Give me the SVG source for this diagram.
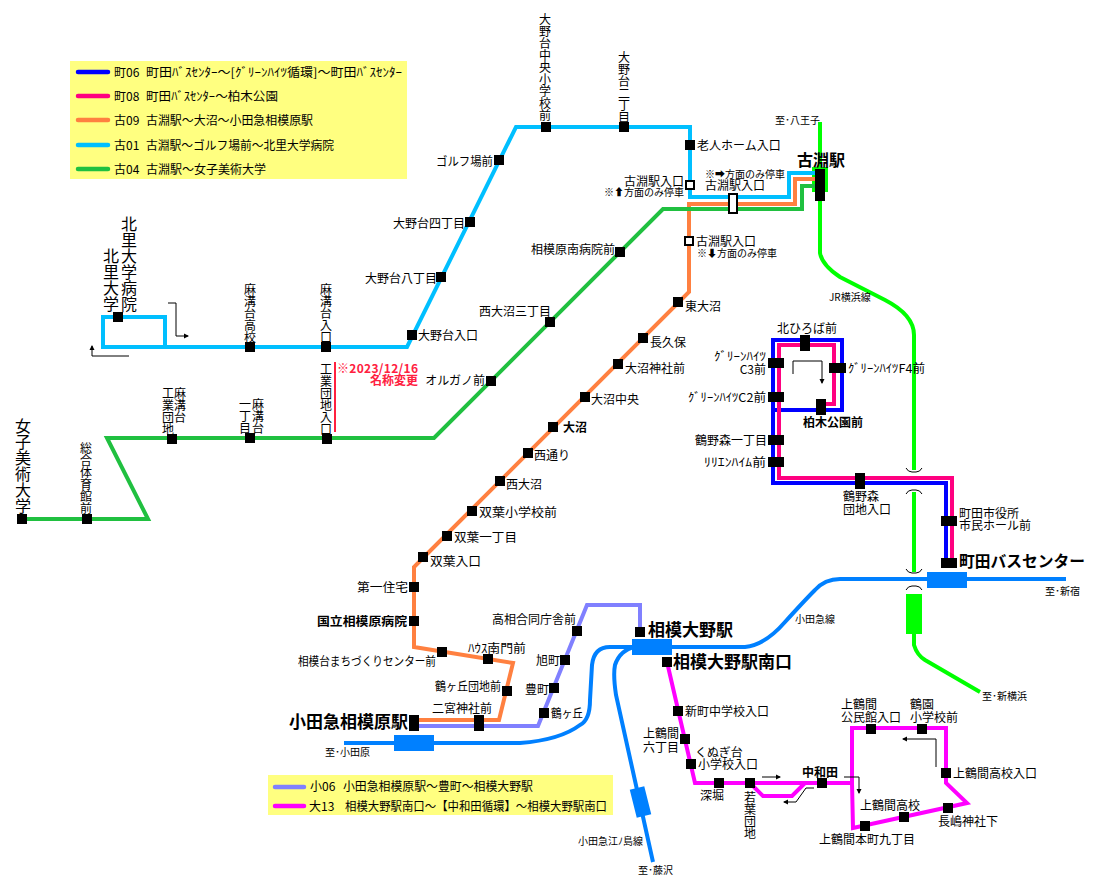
<svg xmlns="http://www.w3.org/2000/svg" width="1099" height="885" viewBox="0 0 1099 885">
<style>
text{font-family:"Noto Sans CJK JP","Noto Sans CJK SC",sans-serif;font-size:12px;fill:#000;transform:translateY(1px)}
.sm{font-size:10px}.b{font-weight:700}.h{font-size:16px;font-weight:700}.m{text-anchor:middle}.e{text-anchor:end}
.v{writing-mode:vertical-rl;text-orientation:upright}.v16{font-size:16px}
.s{fill:#000}.w{fill:#fff;stroke:#000;stroke-width:2}
.l{fill:none;stroke-width:4;stroke-linejoin:miter;stroke-linecap:butt}
.a{fill:none;stroke:#000;stroke-width:1;marker-end:url(#ah)}.g{fill:none;stroke:#000;stroke-width:1}
.k{stroke-width:4.5;stroke-linecap:round}
.r1{stroke:#0000ff}.r2{stroke:#ff0080}.r3{stroke:#ff8040}.r4{stroke:#00bfff}.r5{stroke:#20c040}.r6{stroke:#8080ff}.r7{stroke:#ff00ff}.jr{stroke:#00ff00}.oq{stroke:#0080ff}
.leg{fill:#ffff80}
</style>
<defs><marker id="ah" markerWidth="6" markerHeight="6" refX="4" refY="3" orient="auto" markerUnits="userSpaceOnUse"><path d="M0,0.5L5,3L0,5.500z" fill="#000"/></marker></defs>

<g id="legend-top">
<rect class="leg" x="70" y="61" width="337" height="118"/>
<path class="l k r1" d="M78,72H108"/><path class="l k r2" d="M78,96H108"/><path class="l k r3" d="M78,120H108"/><path class="l k r4" d="M78,145H108"/><path class="l k r5" d="M78,169H108"/>
<text x="114" y="76">町06</text><text x="146" y="76" textLength="256" lengthAdjust="spacingAndGlyphs">町田ﾊﾞｽｾﾝﾀｰ～[ｸﾞﾘｰﾝﾊｲﾂ循環]～町田ﾊﾞｽｾﾝﾀｰ</text>
<text x="114" y="100">町08</text><text x="146" y="100" textLength="132" lengthAdjust="spacingAndGlyphs">町田ﾊﾞｽｾﾝﾀｰ～柏木公園</text>
<text x="114" y="124">古09</text><text x="146" y="124" textLength="167" lengthAdjust="spacingAndGlyphs">古淵駅～大沼～小田急相模原駅</text>
<text x="114" y="149">古01</text><text x="146" y="149" textLength="188" lengthAdjust="spacingAndGlyphs">古淵駅～ゴルフ場前～北里大学病院</text>
<text x="114" y="173">古04</text><text x="146" y="173">古淵駅～女子美術大学</text>
</g>
<g id="legend-bottom">
<rect class="leg" x="268" y="775" width="345" height="40"/>
<path class="l k r6" d="M275,787H304"/><path class="l k r7" d="M275,806H304"/>
<text x="310" y="790">小06</text><text x="343" y="790" textLength="190" lengthAdjust="spacingAndGlyphs">小田急相模原駅～豊町～相模大野駅</text>
<text x="309" y="810">大13</text><text x="345" y="810" textLength="262" lengthAdjust="spacingAndGlyphs">相模大野駅南口～【中和田循環】～相模大野駅南口</text>
</g>

<g id="railways">
<rect x="812" y="167" width="16" height="25" fill="#00ff00"/>
<path class="l jr" d="M820,122V253Q822,265 840,277L885,300Q914,315 914,335V470M914,492V572M914,634V645Q917,655 925,660L980,692"/>
<rect x="906" y="594" width="16" height="40" fill="#00ff00"/>
<path class="g" d="M906,468Q908,472 912,472H916Q920,472 922,468M906,494Q908,490 912,490H916Q920,490 922,494M906,569Q908,573 912,573H916Q920,573 922,569M906,590Q908,586 912,586H916Q920,586 922,590"/>
<path class="l oq" d="M344,743H520Q560,740 580,725Q590,720 590,700L592,665Q594,647 610,647H745Q765,645 785,622Q805,600 815,590Q825,579 840,579H1066"/>
<path class="l oq" d="M635,647Q620,650 615,665Q613,675 616,695L653,862"/>
<rect x="394" y="735" width="40" height="16" fill="#0080ff"/><rect x="632" y="639" width="40" height="16" fill="#0080ff"/><rect x="927" y="572" width="40" height="16" fill="#0080ff"/>
<path d="M637,788L644,816" stroke="#0080ff" stroke-width="15" fill="none"/>
</g>

<g id="connectors">
<path class="l r1" d="M946,560V483H773V340H842V410H773"/>
<path class="l r2" d="M952,560V478H779V345H834V404H821"/>
<path class="l r4" d="M815,173H789V197H690V127H516L407,347H103V317H165V347"/>
<path class="l r3" d="M815,179H795V204H689V292L423,558L414,567V647L513,663L499,720H414"/>
<path class="l r5" d="M815,186H802V209H663L434,438H107L148,519H22"/>
<path class="l r6" d="M414,726H538L587,605H640V632"/>
<path class="l r7" d="M667,662L695,783H852M750,783L763,796H792L805,783M852,783V728H946V783L967,803L853,828L852,783"/>
<path class="a" d="M168,303H176V336H188"/><path class="a" d="M129,356H92V346"/><path class="a" d="M793,374V361H822V383"/><path class="a" d="M762,777H780"/><path class="a" d="M814,788H806L796,802H784"/><path class="a" d="M844,777H859V793"/><path class="a" d="M936,767V739H903"/>
<path d="M335,362V432" stroke="#ff2040" stroke-width="2" fill="none"/>
</g>

<g id="note"><text x="337" y="372" class="b" style="fill:#ff2040" textLength="81">※2023/12/16</text><text x="418" y="384" class="b e" style="fill:#ff2040">名称変更</text></g>

<g id="n-oono-chuo"><rect class="s" x="541" y="122" width="10" height="10"/><text class="v" x="545" y="12">大野台中央小学校前</text></g>
<g id="n-oono2"><rect class="s" x="619" y="122" width="10" height="10"/><text class="v" x="624" y="50">大野台二丁目</text></g>
<g id="n-rojin"><rect class="s" x="685" y="140" width="10" height="10"/><text x="697" y="149">老人ホーム入口</text></g>
<g id="n-golf"><rect class="s" x="494" y="155" width="10" height="10"/><text class="e" x="493" y="165" textLength="57" lengthAdjust="spacingAndGlyphs">ゴルフ場前</text></g>
<g id="n-oono4"><rect class="s" x="465" y="217" width="10" height="10"/><text class="e" x="465" y="227">大野台四丁目</text></g>
<g id="n-oono8"><rect class="s" x="436" y="272" width="10" height="10"/><text class="e" x="437" y="282">大野台八丁目</text></g>
<g id="n-oono-iri"><rect class="s" x="407" y="330" width="10" height="10"/><text x="418" y="339">大野台入口</text></g>
<g id="n-azamizo-iri"><rect class="s" x="321" y="342" width="10" height="10"/><text class="v" x="326" y="282">麻溝台入口</text></g>
<g id="n-azamizo-ko"><rect class="s" x="245" y="342" width="10" height="10"/><text class="v" x="250" y="282">麻溝台高校</text></g>
<g id="n-kitasato"><rect class="s" x="113" y="312" width="10" height="10"/><text class="v v16" x="111" y="247">北里大学</text><text class="v v16" x="129" y="215">北里大学病院</text></g>

<g id="n-koen-st"><rect class="s" x="815" y="169" width="10" height="32"/><text class="h" x="797" y="165">古淵駅</text></g>
<g id="n-koen-a"><rect class="w" x="686" y="181" width="8" height="8"/><text class="e" x="684" y="185">古淵駅入口</text><text class="sm e" x="684" y="195">※⬆方面のみ停車</text></g>
<g id="n-koen-b"><rect class="w" x="729" y="194" width="8" height="19"/><text x="705" y="189">古淵駅入口</text><text class="sm" x="705" y="177">※➡方面のみ停車</text></g>
<g id="n-koen-c"><rect class="w" x="685" y="237" width="8" height="8"/><text x="696" y="245">古淵駅入口</text><text class="sm" x="697" y="256">※⬇方面のみ停車</text></g>

<g id="n-sagamihara-nan"><rect class="s" x="615" y="247" width="10" height="10"/><text class="e" x="615" y="253">相模原南病院前</text></g>
<g id="n-onuma3"><rect class="s" x="545" y="317" width="10" height="10"/><text class="e" x="551" y="315">西大沼三丁目</text></g>
<g id="n-orugano"><rect class="s" x="486" y="376" width="10" height="10"/><text class="e" x="485" y="384">オルガノ前</text></g>
<g id="n-kogyo-iri"><rect class="s" x="322" y="434" width="10" height="10"/><text class="v" x="326" y="362">工業団地入口</text></g>
<g id="n-azamizo1"><rect class="s" x="245" y="433" width="10" height="10"/><text class="v" x="258" y="397">麻溝台</text><text class="v" x="245" y="397">一丁目</text></g>
<g id="n-azamizo-kogyo"><rect class="s" x="167" y="434" width="10" height="10"/><text class="v" x="180" y="386">麻溝台</text><text class="v" x="168" y="386">工業団地</text></g>
<g id="n-sogo"><rect class="s" x="82" y="514" width="10" height="10"/><text class="v" x="86" y="441">総合体育館前</text></g>
<g id="n-joshibi"><rect class="s" x="17" y="514" width="10" height="10"/><text class="v v16" x="23" y="417">女子美術大学</text></g>

<g id="n-higashionuma"><rect class="s" x="673" y="297" width="10" height="10"/><text x="685" y="310">東大沼</text></g>
<g id="n-nagakubo"><rect class="s" x="638" y="333" width="10" height="10"/><text x="650" y="346">長久保</text></g>
<g id="n-onuma-jinja"><rect class="s" x="613" y="359" width="10" height="10"/><text x="625" y="372">大沼神社前</text></g>
<g id="n-onuma-chuo"><rect class="s" x="580" y="392" width="10" height="10"/><text x="591" y="403">大沼中央</text></g>
<g id="n-onuma"><rect class="s" x="548" y="422" width="10" height="10"/><text class="b" x="563" y="431">大沼</text></g>
<g id="n-nishidori"><rect class="s" x="523" y="448" width="10" height="10"/><text x="534" y="459">西通り</text></g>
<g id="n-nishionuma"><rect class="s" x="495" y="476" width="10" height="10"/><text x="506" y="488">西大沼</text></g>
<g id="n-futaba-sho"><rect class="s" x="467" y="506" width="10" height="10"/><text x="479" y="516" textLength="78" lengthAdjust="spacingAndGlyphs">双葉小学校前</text></g>
<g id="n-futaba1"><rect class="s" x="442" y="531" width="10" height="10"/><text x="454" y="541" textLength="63" lengthAdjust="spacingAndGlyphs">双葉一丁目</text></g>
<g id="n-futaba-iri"><rect class="s" x="418" y="552" width="10" height="10"/><text x="430" y="565" textLength="51" lengthAdjust="spacingAndGlyphs">双葉入口</text></g>
<g id="n-daiichi"><rect class="s" x="409" y="582" width="10" height="10"/><text class="e" x="408" y="591" textLength="51" lengthAdjust="spacingAndGlyphs">第一住宅</text></g>
<g id="n-kokuritsu"><rect class="s" x="409" y="616" width="10" height="10"/><text class="e b" x="407" y="625" textLength="90" lengthAdjust="spacingAndGlyphs">国立相模原病院</text></g>
<g id="n-machizukuri"><rect class="s" x="437" y="647" width="10" height="10"/><text class="e" x="436" y="665" textLength="138" lengthAdjust="spacingAndGlyphs">相模台まちづくりセンター前</text></g>
<g id="n-house"><rect class="s" x="483" y="654" width="10" height="10"/><text class="m" x="497" y="652" textLength="58" lengthAdjust="spacingAndGlyphs">ﾊｳｽ南門前</text></g>
<g id="n-tsurugaoka-d"><rect class="s" x="502" y="686" width="10" height="10"/><text class="e" x="501" y="690" textLength="66" lengthAdjust="spacingAndGlyphs">鶴ヶ丘団地前</text></g>
<g id="n-ninomiya"><rect class="s" x="474" y="715" width="10" height="16"/><text class="m" x="462" y="712">二宮神社前</text></g>
<g id="n-odasaga"><rect class="s" x="409" y="715" width="10" height="16"/><text class="h e" style="font-size:17px" x="408" y="727">小田急相模原駅</text></g>
<g id="n-tsurugaoka"><rect class="s" x="539" y="708" width="10" height="10"/><text x="551" y="717" textLength="32" lengthAdjust="spacingAndGlyphs">鶴ヶ丘</text></g>
<g id="n-yutakacho"><rect class="s" x="549" y="683" width="10" height="10"/><text class="e" x="549" y="693">豊町</text></g>
<g id="n-asahicho"><rect class="s" x="560" y="655" width="10" height="10"/><text class="e" x="560" y="664">旭町</text></g>
<g id="n-kosoai"><rect class="s" x="572" y="626" width="10" height="10"/><text class="e" x="576" y="623">高相合同庁舎前</text></g>
<g id="n-sagamiono"><rect class="s" x="635" y="627" width="10" height="10"/><text class="h" style="font-size:17px" x="648" y="635">相模大野駅</text></g>
<g id="n-sagamiono-s"><rect class="s" x="662" y="657" width="10" height="10"/><text class="h" style="font-size:17px" x="673" y="667">相模大野駅南口</text></g>

<g id="n-shinmachi"><rect class="s" x="673" y="706" width="10" height="10"/><text x="685" y="715">新町中学校入口</text></g>
<g id="n-kamitsuru6"><rect class="s" x="680" y="734" width="10" height="10"/><text class="m" x="661" y="737">上鶴間</text><text class="m" x="661" y="751">六丁目</text></g>
<g id="n-kunugi"><rect class="s" x="686" y="759" width="10" height="10"/><text class="m" x="719" y="756">くぬぎ台</text><text x="698" y="768">小学校入口</text></g>
<g id="n-fukabori"><rect class="s" x="714" y="778" width="10" height="10"/><text class="m" x="712" y="799">深堀</text></g>
<g id="n-wakaba"><rect class="s" x="745" y="778" width="10" height="10"/><text class="v" x="750" y="790">若葉団地</text></g>
<g id="n-nakawada"><rect class="s" x="817" y="778" width="10" height="10"/><text class="m b" x="820" y="776">中和田</text></g>
<g id="n-kouminkan"><rect class="s" x="866" y="724" width="10" height="10"/><text x="841" y="708">上鶴間</text><text x="841" y="721">公民館入口</text></g>
<g id="n-tsuruzono"><rect class="s" x="917" y="724" width="10" height="10"/><text x="910" y="708">鶴園</text><text x="910" y="721">小学校前</text></g>
<g id="n-kt-iri"><rect class="s" x="941" y="768" width="10" height="10"/><text x="953" y="777">上鶴間高校入口</text></g>
<g id="n-nagashima"><rect class="s" x="943" y="803" width="10" height="10"/><text x="938" y="825">長嶋神社下</text></g>
<g id="n-kt"><rect class="s" x="899" y="812" width="10" height="10"/><text x="860" y="809">上鶴間高校</text></g>
<g id="n-hommachi9"><rect class="s" x="860" y="821" width="10" height="10"/><text x="819" y="843">上鶴間本町九丁目</text></g>

<g id="n-kitahiroba"><rect class="s" x="800" y="335" width="10" height="16"/><text class="m" x="807" y="332">北ひろば前</text></g>
<g id="n-c3"><rect class="s" x="768" y="358" width="16" height="10"/><text class="e" x="766" y="360" textLength="52" lengthAdjust="spacingAndGlyphs">ｸﾞﾘｰﾝﾊｲﾂ</text><text class="e" x="766" y="373">C3前</text></g>
<g id="n-c2"><rect class="s" x="768" y="392" width="16" height="10"/><text class="e" x="766" y="401" textLength="78" lengthAdjust="spacingAndGlyphs">ｸﾞﾘｰﾝﾊｲﾂC2前</text></g>
<g id="n-f4"><rect class="s" x="829" y="363" width="17" height="10"/><text x="848" y="372" textLength="77" lengthAdjust="spacingAndGlyphs">ｸﾞﾘｰﾝﾊｲﾂF4前</text></g>
<g id="n-kashiwagi"><rect class="s" x="816" y="399" width="10" height="16"/><text class="m b" x="833" y="426">柏木公園前</text></g>
<g id="n-unomori1"><rect class="s" x="768" y="435" width="16" height="10"/><text class="e" x="767" y="444">鶴野森一丁目</text></g>
<g id="n-lilien"><rect class="s" x="768" y="457" width="16" height="10"/><text class="e" x="766" y="466" textLength="62" lengthAdjust="spacingAndGlyphs">ﾘﾘｴﾝﾊｲﾑ前</text></g>
<g id="n-unomori-d"><rect class="s" x="855" y="473" width="10" height="16"/><text x="843" y="500">鶴野森</text><text x="843" y="513">団地入口</text></g>
<g id="n-shiyakusho"><rect class="s" x="941" y="516" width="16" height="10"/><text x="959" y="517">町田市役所</text><text x="959" y="529">市民ホール前</text></g>
<g id="n-machida"><rect class="s" x="941" y="558" width="16" height="10"/><text class="h" x="959" y="566" textLength="126" lengthAdjust="spacingAndGlyphs">町田バスセンター</text></g>

<g id="railway-labels">
<text class="sm" x="775" y="123">至･八王子</text>
<text class="sm" x="829" y="300">JR横浜線</text>
<text class="sm" x="1045" y="594">至･新宿</text>
<text class="sm" x="982" y="699">至･新横浜</text>
<text class="sm" x="795" y="622">小田急線</text>
<text class="sm" x="325" y="755">至･小田原</text>
<text class="sm" x="578" y="844">小田急江ﾉ島線</text>
<text class="sm" x="638" y="873">至･藤沢</text>
</g>
</svg>
